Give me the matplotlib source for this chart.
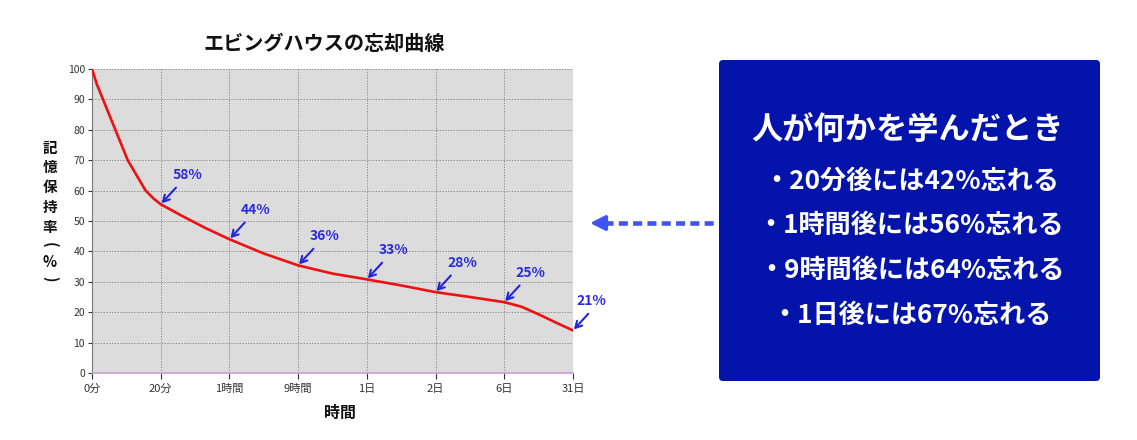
import matplotlib
matplotlib.use('Agg')
import matplotlib.pyplot as plt
from matplotlib.patches import FancyBboxPatch

plt.rcParams['font.family'] = ['Noto Sans CJK JP', 'DejaVu Sans']
plt.rcParams['lines.scale_dashes'] = False

# データ
tick_labels = ['0分', '20分', '1時間', '9時間', '1日', '2日', '6日', '31日']
curve_x = [0, 0.07, 0.16, 0.34, 0.52, 0.78, 0.9, 1.0, 1.3, 1.65, 2.0, 2.5, 3.0, 3.5,
           4.0, 4.5, 5.0, 5.5, 6.0, 6.25, 6.5, 6.75, 7.0]
curve_y = [100, 95, 90, 80, 70, 60, 57.3, 55.5, 51.8, 47.7, 44, 39.3, 35.4, 32.7,
           30.8, 28.8, 26.6, 25.0, 23.3, 21.8, 19.3, 16.6, 14]
label_pos = [1, 2, 3, 4, 5, 6, 7]
label_text = ['58%', '44%', '36%', '33%', '28%', '25%', '21%']
ylabel_chars = ['記', '憶', '保', '持', '率', '(', '%', ')']
box_title = '人が何かを学んだとき'
box_lines = ['・20分後には42%忘れる', '・1時間後には56%忘れる',
             '・9時間後には64%忘れる', '・1日後には67%忘れる']

W, H = 1137, 440
fig = plt.figure(figsize=(W / 100, H / 100), dpi=100)

ax = fig.add_axes([92 / W, 1 - 373 / H, 481 / W, 304 / H])
ax.set_facecolor('#dcdcdc')
ax.plot(curve_x, curve_y, color='#ee1111', lw=1.9, solid_capstyle='round',
        solid_joinstyle='round', zorder=3)
ax.set_xlim(0, 7)
ax.set_ylim(0, 100)
ax.set_xticks(range(len(tick_labels)))
ax.set_xticklabels(tick_labels, fontsize=8, color='#333333')
ax.set_yticks(range(0, 101, 10))
ax.tick_params(axis='y', labelsize=7.5, colors='#333333', length=3, width=0.8, pad=2)
ax.tick_params(axis='x', length=4, width=0.8, pad=4, colors='#333333')
ax.grid(True, color='#909090', linestyle=(0, (1, 1)), lw=0.7)
ax.set_axisbelow(True)
for s in ['top', 'right']:
    ax.spines[s].set_visible(False)
ax.spines['left'].set_color('#777777')
ax.spines['bottom'].set_color('#c8a0d0')
ax.spines['bottom'].set_linewidth(1.2)

for xp, txt in zip(label_pos, label_text):
    yp = curve_y[curve_x.index(xp)]
    ax.annotate('', xy=(xp, yp), xytext=(11, 12), textcoords='offset points',
                arrowprops=dict(arrowstyle='->,head_length=0.45,head_width=0.25',
                                color='#2424dd', lw=1.5, shrinkA=0, shrinkB=1))
    dx = 13 if xp == 7 else 19
    ax.annotate(txt, xy=(xp, yp), xytext=(dx, 21), textcoords='offset points',
                ha='center', va='center', fontsize=10, fontweight='bold',
                color='#2b2bdd')

fig.text(324 / W, 1 - 43 / H, 'エビングハウスの忘却曲線', ha='center', va='center',
         fontsize=14.5, fontweight='bold', color='#111111')
fig.text(340 / W, 1 - 413 / H, '時間', ha='center', va='center',
         fontsize=11.5, fontweight='bold', color='#111111')

# 縦書きの軸ラベル
ylabel_y = [148, 167, 187, 207, 227, 245, 262, 279]
for ch, yy in zip(ylabel_chars, ylabel_y):
    rot = -90 if ch in '()' else 0
    fig.text(50 / W, 1 - yy / H, ch, ha='center', va='center', rotation=rot,
             fontsize=10.5, fontweight='bold', color='#111111')

# 右側の説明ボックス（ピクセル座標のオーバーレイ）
ov = fig.add_axes([0, 0, 1, 1], zorder=5)
ov.set_xlim(0, W)
ov.set_ylim(H, 0)
ov.axis('off')
ov.patch.set_alpha(0)

box = FancyBboxPatch((719, 60), 381, 321, boxstyle='round,pad=0,rounding_size=4',
                     fc='#0414aa', ec='none')
ov.add_patch(box)
ov.text(908, 131, box_title, ha='center', va='center', color='white',
        fontsize=22.5, fontweight='bold')
for i, line in enumerate(box_lines):
    ov.text(911, 181 + i * 44.7, line, ha='center', va='center', color='white',
            fontsize=18.8, fontweight='bold')

ov.plot([604, 718], [223, 223], color='#3f55f0', lw=3.3, dashes=(6.5, 3.8))
ov.annotate('', xy=(590, 223), xytext=(607, 223),
            arrowprops=dict(arrowstyle='-|>,head_length=0.9,head_width=0.45',
                            color='#3f55f0', lw=2.5, shrinkA=0, shrinkB=0))

fig.savefig('out.png', dpi=100)
